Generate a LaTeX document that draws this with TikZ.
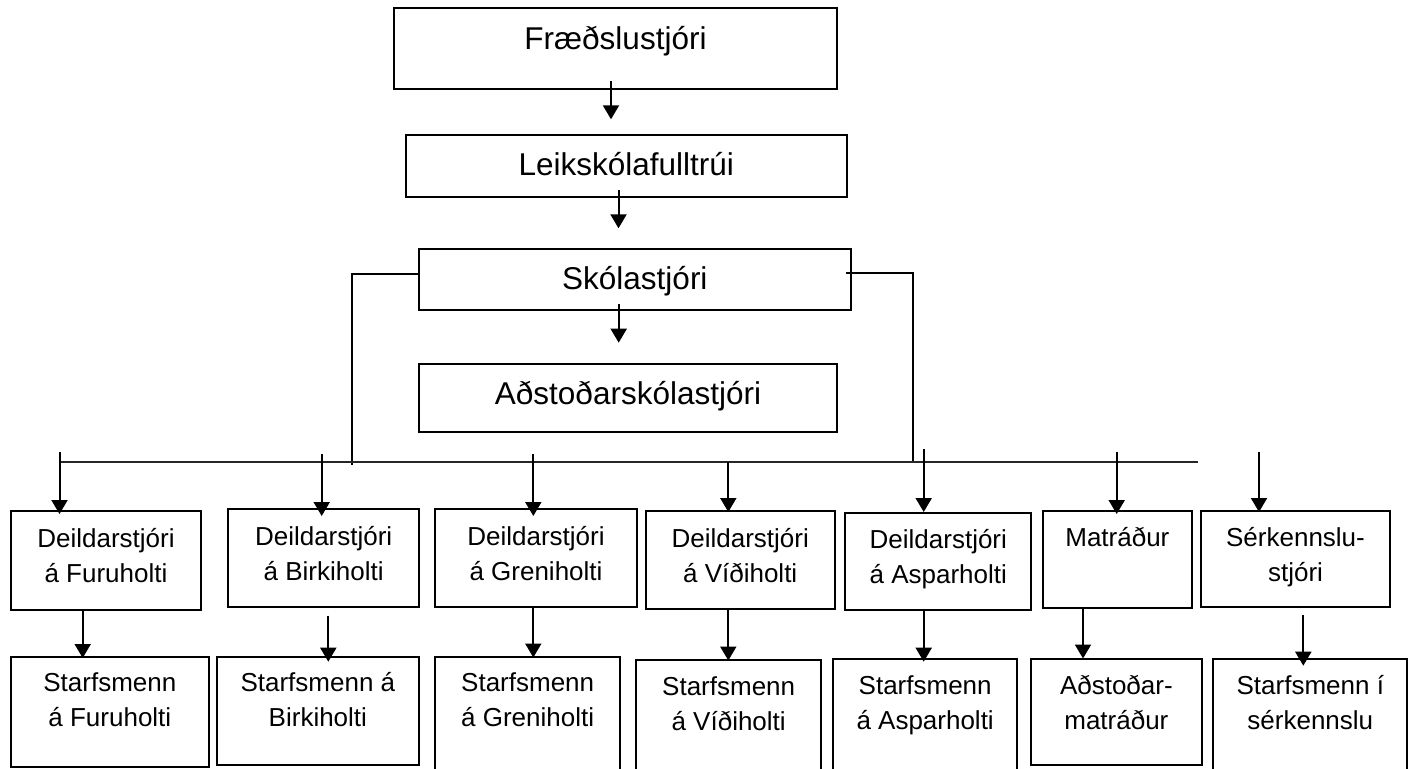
\documentclass[tikz,border=0pt]{standalone}
\usepackage{fontspec}
\setmainfont{Liberation Sans}
\usetikzlibrary{arrows.meta}
\newcommand\orgbox[5]{\node[box, minimum width={#4-#2}, minimum height={#5-#3}] (#1) at (#2,#3) {};}
\begin{document}
\begin{tikzpicture}[x=1pt,y=-1pt,
  box/.style={draw, line width=2.2pt, rectangle, inner sep=0pt, outer sep=0pt, anchor=north west},
  big/.style={font=\fontsize{31.5}{38}\selectfont, inner sep=0pt, anchor=base},
  small/.style={font=\fontsize{26}{35}\selectfont, align=center, inner sep=0pt, anchor=base},
  arr/.style={line width=2pt, -{Triangle[width=16pt,length=14pt]}},
  conn/.style={line width=2pt},
  hline/.style={line width=1.6pt, black!85},
]
\clip (0,0) rectangle (1415,768);
\fill[white] (0,0) rectangle (1415,768);

% top chain
\orgbox{fr}{394.3}{8.3}{836.7}{89.3}
\orgbox{le}{405.7}{135}{846.7}{197.3}
\orgbox{sk}{418.7}{248.7}{851}{310}
\orgbox{ad}{418.7}{364}{837.3}{431.7}
\node[big] (frT) at ([yshift=-41.7pt]fr.north) {Fræðslustjóri};
\node[big] (leT) at ([yshift=-40.7pt]le.north) {Leikskólafulltrúi};
\node[big] (skT) at ([yshift=-40.3pt]sk.north) {Skólastjóri};
\node[big] (adT) at ([yshift=-40pt]ad.north) {Aðstoðarskólastjóri};

\coordinate (a1s) at (611,81);    \coordinate (a1e) at (611,119.3);
\coordinate (a2s) at (618.5,190); \coordinate (a2e) at (618.5,228.3);
\coordinate (a3s) at (618.7,304.3); \coordinate (a3e) at (618.7,342.7);
\draw[arr] (a1s) -- (a1e);
\draw[arr] (a2s) -- (a2e);
\draw[arr] (a3s) -- (a3e);

% side connectors and bus
\coordinate (lc) at (352.3,465);
\coordinate (rc) at (912.7,463.3);
\draw[conn] ([yshift=5.3pt]sk.west) -| (lc);
\draw[conn] ([xshift=-5pt,yshift=6pt]sk.east) -| (rc);
\coordinate (hl) at (60,462); \coordinate (hr) at (1197.7,462);
\draw[hline] (hl) -- (hr);

% second row boxes
\orgbox{dF}{11}{511}{201}{610}
\orgbox{dB}{228.3}{509.3}{419}{607}
\orgbox{dG}{435.3}{509}{636.7}{606.7}
\orgbox{dV}{645.7}{511}{834.7}{608.7}
\orgbox{dA}{845.3}{512.7}{1031.3}{610.3}
\orgbox{dM}{1042.7}{510.7}{1192}{608.3}
\orgbox{dS}{1201}{510.7}{1390}{606.7}
\node[small] (dFt) at ([yshift=-71pt]dF.north) {Deildarstjóri\\á Furuholti};
\node[small] (dBt) at ([yshift=-71pt]dB.north) {Deildarstjóri\\á Birkiholti};
\node[small] (dGt) at ([yshift=-71pt]dG.north) {Deildarstjóri\\á Greniholti};
\node[small] (dVt) at ([yshift=-71pt]dV.north) {Deildarstjóri\\á Víðiholti};
\node[small] (dAt) at ([yshift=-71pt]dA.north) {Deildarstjóri\\á Asparholti};
\node[small] (dMt) at ([yshift=-36pt]dM.north) {Matráður};
\node[small] (dSt) at ([yshift=-71pt]dS.north) {Sérkennslu-\\stjóri};

% third row boxes
\orgbox{sF}{11}{656.7}{208.7}{767}
\orgbox{sB}{216.7}{656.7}{419}{765}
\orgbox{sG}{435.3}{656.7}{620}{780}
\orgbox{sV}{636.3}{660}{821}{780}
\orgbox{sA}{833}{659}{1017.3}{780}
\orgbox{sM}{1031}{659}{1201.7}{765}
\orgbox{sS}{1213.3}{659}{1407.3}{780}
\node[small] (sFt) at ([yshift=-70pt]sF.north) {Starfsmenn\\á Furuholti};
\node[small] (sBt) at ([yshift=-70pt]sB.north) {Starfsmenn á\\Birkiholti};
\node[small] (sGt) at ([yshift=-70pt]sG.north) {Starfsmenn\\á Greniholti};
\node[small] (sVt) at ([yshift=-70pt]sV.north) {Starfsmenn\\á Víðiholti};
\node[small] (sAt) at ([yshift=-70pt]sA.north) {Starfsmenn\\á Asparholti};
\node[small] (sMt) at ([yshift=-70pt]sM.north) {Aðstoðar-\\matráður};
\node[small] (sSt) at ([yshift=-70pt]sS.north) {Starfsmenn í\\sérkennslu};

% arrows from bus to second row
\coordinate (b1) at (59.5,452);  \coordinate (b1e) at (59.5,514);
\coordinate (b2) at (321.7,454); \coordinate (b2e) at (321.7,516);
\coordinate (b3) at (533.3,454); \coordinate (b3e) at (533.3,516);
\coordinate (b4) at (728.3,462); \coordinate (b4e) at (728.3,512);
\coordinate (b5) at (923.7,449); \coordinate (b5e) at (923.7,512);
\coordinate (b6) at (1116.7,452.3); \coordinate (b6e) at (1116.7,514);
\coordinate (b7) at (1259,452.3); \coordinate (b7e) at (1259,512);
\foreach \i in {1,...,7} {\draw[arr] (b\i) -- (b\i e);}

% arrows from second to third row
\coordinate (c1) at (82.7,610);   \coordinate (c1e) at (82.7,658);
\coordinate (c2) at (328.3,615.7); \coordinate (c2e) at (328.3,661.7);
\coordinate (c3) at (533.3,606.7); \coordinate (c3e) at (533.3,657.5);
\coordinate (c4) at (728.3,608.7); \coordinate (c4e) at (728.3,660.5);
\coordinate (c5) at (923.7,610.3); \coordinate (c5e) at (923.7,661.7);
\coordinate (c6) at (1083,608.3);  \coordinate (c6e) at (1083,658.5);
\coordinate (c7) at (1303.3,615);  \coordinate (c7e) at (1303.3,665.7);
\foreach \i in {1,...,7} {\draw[arr] (c\i) -- (c\i e);}
\end{tikzpicture}
\end{document}
